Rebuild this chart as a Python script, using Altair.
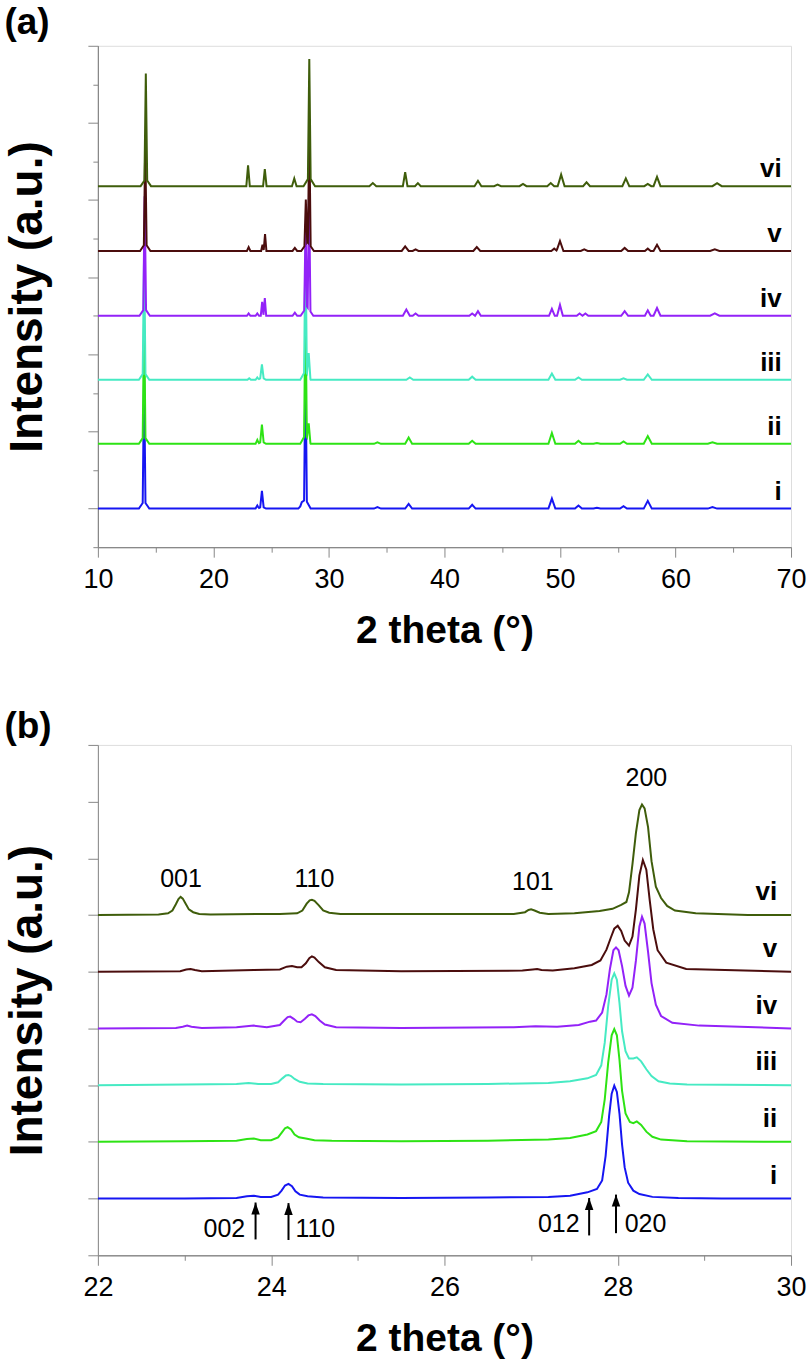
import altair as alt
import pandas as pd

FONT = "Liberation Sans"
SERIES = ["i", "ii", "iii", "iv", "v", "vi"]
COLORS = ["#1616F2", "#2DE314", "#46EAC3", "#9322F8", "#4B0D0D", "#3F5D0B"]

# ---------------- panel (a): 10-70 deg ----------------
A_OFFSET = [0.0, 0.84, 1.67, 2.5, 3.34, 4.18]
# peaks: (2theta, height above own baseline, half-width at base)
A_PEAKS_I = [(14.0, 1.65, 0.12), (14.0, 0.1, 0.45), (23.8, 0.04, 0.15), (24.2, 0.2, 0.15),
             (24.2, 0.03, 0.35), (27.65, 0.05, 0.3), (27.97, 1.8, 0.12), (27.97, 0.12, 0.45),
             (34.2, 0.02, 0.3), (36.9, 0.06, 0.3), (42.4, 0.05, 0.3), (49.3, 0.13, 0.3),
             (51.6, 0.04, 0.3), (53.2, 0.01, 0.3), (55.5, 0.03, 0.3), (57.6, 0.1, 0.35),
             (63.2, 0.02, 0.4)]
A_PEAKS_II = [(14.0, 1.6, 0.12), (14.0, 0.1, 0.45), (23.8, 0.05, 0.15), (24.2, 0.22, 0.15),
              (24.2, 0.03, 0.35), (27.97, 1.75, 0.12), (27.97, 0.12, 0.45), (28.25, 0.22, 0.15),
              (34.2, 0.02, 0.3), (36.9, 0.08, 0.3), (42.4, 0.04, 0.3), (49.3, 0.14, 0.3),
              (51.6, 0.04, 0.3), (53.2, 0.01, 0.3), (55.5, 0.03, 0.3), (57.6, 0.1, 0.35),
              (63.2, 0.02, 0.4)]
A_PEAKS_III = [(14.0, 1.55, 0.12), (14.0, 0.1, 0.45), (23.1, 0.02, 0.15), (23.8, 0.03, 0.15),
               (24.2, 0.17, 0.15), (24.2, 0.03, 0.35), (27.97, 1.75, 0.12), (27.97, 0.12, 0.45),
               (28.25, 0.3, 0.15), (37.0, 0.03, 0.3), (42.4, 0.04, 0.3), (49.3, 0.08, 0.3),
               (51.6, 0.03, 0.3), (55.5, 0.02, 0.3), (57.6, 0.07, 0.35)]
A_PEAKS_IV = [(14.05, 1.45, 0.12), (14.05, 0.1, 0.45), (23.05, 0.03, 0.15), (23.8, 0.03, 0.15),
              (24.22, 0.18, 0.12), (24.45, 0.23, 0.12), (27.05, 0.04, 0.2), (27.98, 1.1, 0.12),
              (28.28, 1.55, 0.12), (28.1, 0.12, 0.55), (36.7, 0.08, 0.3), (37.5, 0.03, 0.25),
              (42.4, 0.03, 0.25), (42.9, 0.06, 0.25), (49.3, 0.09, 0.25), (50.0, 0.14, 0.25),
              (51.7, 0.03, 0.25), (52.2, 0.03, 0.25), (55.6, 0.06, 0.3), (57.6, 0.07, 0.25),
              (58.4, 0.1, 0.3), (63.4, 0.03, 0.4)]
A_PEAKS_V = [(14.1, 1.3, 0.12), (14.1, 0.1, 0.45), (23.05, 0.05, 0.15), (24.25, 0.08, 0.12),
             (24.47, 0.22, 0.12), (27.05, 0.04, 0.2), (28.0, 0.58, 0.12), (28.3, 1.5, 0.12),
             (28.15, 0.12, 0.55), (36.6, 0.06, 0.3), (37.5, 0.02, 0.25), (42.8, 0.05, 0.3),
             (49.5, 0.03, 0.25), (50.0, 0.13, 0.3), (52.1, 0.02, 0.3), (55.6, 0.04, 0.3),
             (57.6, 0.03, 0.25), (58.4, 0.08, 0.3), (63.4, 0.02, 0.4)]
A_PEAKS_VI = [(14.15, 1.36, 0.12), (14.15, 0.1, 0.45), (23.0, 0.27, 0.15), (24.45, 0.22, 0.15),
              (27.0, 0.1, 0.2), (28.3, 1.53, 0.12), (28.3, 0.12, 0.5), (33.8, 0.04, 0.3),
              (36.6, 0.18, 0.2), (37.7, 0.04, 0.25), (42.9, 0.07, 0.3), (44.6, 0.02, 0.3),
              (46.8, 0.03, 0.3), (49.2, 0.04, 0.3), (50.1, 0.15, 0.3), (52.3, 0.05, 0.3),
              (55.7, 0.1, 0.3), (57.6, 0.03, 0.3), (58.4, 0.12, 0.3), (63.6, 0.04, 0.4)]
A_PEAKS = [A_PEAKS_I, A_PEAKS_II, A_PEAKS_III, A_PEAKS_IV, A_PEAKS_V, A_PEAKS_VI]
A_DOMAIN_X = [10, 70]
A_DOMAIN_Y = [-0.5, 6]
A_X_MAJOR = [10, 20, 30, 40, 50, 60, 70]
A_X_MINOR = [15, 25, 35, 45, 55, 65]
A_Y_MAJOR = [0, 1, 2, 3, 4, 5, 6]
A_Y_MINOR = [-0.5, 0.5, 1.5, 2.5, 3.5, 4.5, 5.5]
A_LABEL_X = 69.2
A_LABEL_LIFT = 0.22

# ---------------- panel (b): 22-30 deg ----------------
B_OFFSET = [1, 2, 3, 4, 5, 6]
B_I_X = [22.0, 23.0, 23.6, 23.72, 23.8, 23.88, 24.0, 24.08, 24.12, 24.16,
         24.2, 24.24, 24.28, 24.33, 24.42, 24.6, 25.5, 26.5, 27.2, 27.45,
         27.65, 27.76, 27.82, 27.86, 27.9, 27.93, 27.96, 27.99, 28.02, 28.05,
         28.08, 28.12, 28.18, 28.25, 28.4, 28.7, 29.2, 30.0]
B_I_H = [0.0, 0.0, 0.01, 0.04, 0.05, 0.03, 0.03, 0.07, 0.14, 0.23,
         0.26, 0.22, 0.13, 0.07, 0.04, 0.02, 0.01, 0.02, 0.03, 0.05,
         0.11, 0.17, 0.32, 0.75, 1.45, 1.85, 1.99, 1.88, 1.5, 0.95,
         0.55, 0.28, 0.14, 0.08, 0.03, 0.01, 0.0, 0.0]
B_II_X = [22.0, 23.0, 23.6, 23.72, 23.8, 23.88, 24.0, 24.08, 24.12, 24.16,
          24.19, 24.23, 24.27, 24.32, 24.4, 24.5, 24.7, 25.5, 26.5, 27.2,
          27.45, 27.65, 27.75, 27.81, 27.85, 27.89, 27.93, 27.96, 27.99, 28.02,
          28.05, 28.09, 28.14, 28.18, 28.22, 28.27, 28.33, 28.4, 28.5, 28.8, 30.0]
B_II_H = [0.0, 0.01, 0.02, 0.05, 0.06, 0.03, 0.03, 0.08, 0.16, 0.24,
          0.26, 0.22, 0.13, 0.08, 0.06, 0.03, 0.02, 0.01, 0.02, 0.04,
          0.07, 0.13, 0.19, 0.35, 0.75, 1.4, 1.88, 1.99, 1.88, 1.45,
          0.9, 0.5, 0.35, 0.33, 0.36, 0.3, 0.18, 0.09, 0.04, 0.01, 0.0]
B_III_X = [22.0, 23.0, 23.6, 23.74, 23.85, 24.0, 24.08, 24.13, 24.17, 24.2,
           24.23, 24.27, 24.33, 24.42, 24.6, 25.5, 26.5, 27.2, 27.45, 27.65,
           27.75, 27.81, 27.85, 27.89, 27.93, 27.96, 27.99, 28.02, 28.05, 28.09,
           28.13, 28.18, 28.22, 28.27, 28.33, 28.39, 28.47, 28.6, 28.8, 30.0]
B_III_H = [0.0, 0.01, 0.02, 0.04, 0.02, 0.02, 0.05, 0.12, 0.17, 0.18,
           0.16, 0.11, 0.06, 0.03, 0.02, 0.01, 0.02, 0.04, 0.07, 0.12,
           0.18, 0.35, 0.75, 1.4, 1.86, 1.97, 1.86, 1.45, 0.95, 0.6,
           0.47, 0.47, 0.49, 0.42, 0.28, 0.16, 0.07, 0.03, 0.01, 0.0]
B_IV_X = [22.0, 22.9, 22.98, 23.03, 23.08, 23.2, 23.6, 23.8, 23.95, 24.1,
          24.15, 24.19, 24.22, 24.26, 24.3, 24.34, 24.39, 24.43, 24.47, 24.51,
          24.56, 24.62, 24.75, 25.5, 26.8, 27.05, 27.3, 27.55, 27.68, 27.75,
          27.82, 27.87, 27.91, 27.95, 27.98, 28.01, 28.05, 28.09, 28.13, 28.17,
          28.21, 28.25, 28.28, 28.31, 28.35, 28.39, 28.44, 28.5, 28.63, 28.94, 30.0]
B_IV_H = [0.0, 0.01, 0.03, 0.05, 0.03, 0.01, 0.02, 0.05, 0.02, 0.06,
          0.14, 0.2, 0.21, 0.17, 0.12, 0.11, 0.17, 0.23, 0.25, 0.22,
          0.14, 0.07, 0.02, 0.01, 0.02, 0.04, 0.03, 0.06, 0.12, 0.14,
          0.28, 0.6, 1.05, 1.38, 1.43, 1.38, 1.1, 0.75, 0.58, 0.72,
          1.2, 1.8, 1.97, 1.85, 1.35, 0.8, 0.42, 0.22, 0.1, 0.05, 0.0]
B_V_X = [22.0, 22.95, 23.02, 23.07, 23.12, 23.2, 23.8, 24.1, 24.18, 24.24,
         24.3, 24.35, 24.4, 24.44, 24.47, 24.5, 24.55, 24.62, 24.75, 25.5,
         26.9, 27.02, 27.07, 27.12, 27.25, 27.5, 27.7, 27.8, 27.87, 27.92,
         27.96, 28.0, 28.04, 28.08, 28.13, 28.17, 28.21, 28.25, 28.29, 28.33,
         28.37, 28.41, 28.46, 28.56, 28.79, 30.0]
B_V_H = [0.0, 0.01, 0.04, 0.05, 0.03, 0.01, 0.03, 0.04, 0.09, 0.1,
         0.08, 0.08, 0.15, 0.24, 0.27, 0.25, 0.17, 0.08, 0.03, 0.01,
         0.02, 0.04, 0.05, 0.03, 0.02, 0.06, 0.12, 0.2, 0.39, 0.6,
         0.76, 0.81, 0.72, 0.55, 0.46, 0.62, 1.1, 1.7, 1.97, 1.8,
         1.25, 0.75, 0.38, 0.16, 0.05, 0.0]
B_VI_X = [22.0, 22.7, 22.81, 22.86, 22.9, 22.93, 22.955, 22.98, 23.01, 23.05,
          23.1, 23.17, 23.3, 24.1, 24.3, 24.36, 24.41, 24.445, 24.47, 24.5,
          24.55, 24.6, 24.67, 24.8, 26.8, 26.93, 26.97, 27.0, 27.04, 27.1,
          27.2, 27.5, 27.79, 27.94, 28.04, 28.1, 28.13, 28.17, 28.21, 28.25,
          28.28, 28.31, 28.35, 28.39, 28.44, 28.5, 28.57, 28.66, 28.9, 29.5, 30.0]
B_VI_H = [0.0, 0.01, 0.03, 0.08, 0.19, 0.28, 0.32, 0.29, 0.21, 0.1,
          0.05, 0.02, 0.01, 0.02, 0.03, 0.08, 0.2, 0.26, 0.27, 0.25,
          0.17, 0.08, 0.04, 0.02, 0.02, 0.05, 0.09, 0.1, 0.08, 0.04,
          0.02, 0.03, 0.07, 0.11, 0.18, 0.23, 0.4, 0.9, 1.45, 1.85,
          1.95, 1.88, 1.55, 0.95, 0.5, 0.3, 0.16, 0.08, 0.03, 0.0, 0.0]
B_XS = [B_I_X, B_II_X, B_III_X, B_IV_X, B_V_X, B_VI_X]
B_HS = [B_I_H, B_II_H, B_III_H, B_IV_H, B_V_H, B_VI_H]
B_DOMAIN_X = [22, 30]
B_DOMAIN_Y = [0, 9]
B_X_MAJOR = [22, 24, 26, 28, 30]
B_X_MINOR = [23, 25, 27, 29]
B_Y_MAJOR = [0, 1, 2, 3, 4, 5, 6, 7, 8, 9]
B_LABEL_X = 29.84
B_LABEL_LIFT = 0.4

# Miller-index labels on top trace and arrowed labels under trace i
B_HKL_TOP = ["001", "110", "101", "200"]
B_HKL_TOP_X = [22.96, 24.5, 27.02, 28.33]
B_HKL_TOP_Y = [6.64, 6.64, 6.58, 8.42]
B_ARROW_X = [23.82, 24.2, 27.67, 27.98]
B_ARROW_TIP = [0.93, 0.92, 1.01, 1.07]
B_ARROW_TAIL = [0.28, 0.27, 0.35, 0.39]
B_ARROW_TEXT = ["002", "110", "012", "020"]
B_ARROW_TEXT_X = [23.70, 24.28, 27.56, 28.08]
B_ARROW_TEXT_Y = [0.46, 0.46, 0.56, 0.56]
B_ARROW_TEXT_ALIGN = ["right", "left", "right", "left"]


def profile(peaks, lo, hi, offset):
    xs = sorted(set([lo, hi] + [p + d for p, h, w in peaks for d in (-w, 0.0, w)]))
    rows = []
    for x in xs:
        v = sum(max(0.0, h * (1 - abs(x - p) / w)) for p, h, w in peaks)
        rows.append({"x": x, "y": offset + v})
    return pd.DataFrame(rows)


def ax_major_x(vals, title):
    return alt.Axis(values=vals, tickSize=10, labelFontSize=27, labelPadding=9, title=title,
                    titleFontSize=39, titleFontWeight="bold", titlePadding=19, orient="bottom",
                    grid=False, labelFlush=False, labelOverlap=False)


def ax_minor_x(vals):
    return alt.Axis(values=vals, tickSize=5, labels=False, title=None, orient="bottom", grid=False)


def ax_major_y(vals, size):
    return alt.Axis(values=vals, tickSize=size, labels=False, title="Intensity (a.u.)",
                    titleFontSize=46, titleFontWeight="bold", titlePadding=36, orient="left",
                    grid=False)


def ax_minor_y(vals):
    return alt.Axis(values=vals, tickSize=5, labels=False, title=None, orient="left", grid=False)


# ---- build panel (a)
xs_a = alt.Scale(domain=A_DOMAIN_X, nice=False, zero=False)
ys_a = alt.Scale(domain=A_DOMAIN_Y, nice=False, zero=False)
layers_a = []
for k, (s, c) in enumerate(zip(SERIES, COLORS)):
    df = profile(A_PEAKS[k], A_DOMAIN_X[0], A_DOMAIN_X[1], A_OFFSET[k])
    if k == 0:
        xa, ya = ax_major_x(A_X_MAJOR, "2 theta (°)"), ax_major_y(A_Y_MAJOR, 10)
    elif k == 1:
        xa, ya = ax_minor_x(A_X_MINOR), ax_minor_y(A_Y_MINOR)
    else:
        xa, ya = None, None
    layers_a.append(
        alt.Chart(df).mark_line(color=c, strokeWidth=2, clip=True).encode(
            x=alt.X("x:Q", scale=xs_a, axis=xa),
            y=alt.Y("y:Q", scale=ys_a, axis=ya),
        )
    )
lab_a = pd.DataFrame({"label": SERIES, "x": [A_LABEL_X] * 6,
                      "y": [o + A_LABEL_LIFT for o in A_OFFSET]})
layers_a.append(
    alt.Chart(lab_a).mark_text(align="right", baseline="middle", font=FONT, fontSize=26,
                               fontWeight="bold", color="black").encode(
        x=alt.X("x:Q", scale=xs_a, axis=None), y=alt.Y("y:Q", scale=ys_a, axis=None),
        text="label:N")
)
chart_a = alt.layer(*layers_a).resolve_axis(x="independent", y="independent").properties(
    width=694, height=502,
    title=alt.TitleParams("(a)", anchor="start", frame="bounds", fontSize=37, fontWeight="bold",
                          font=FONT, color="black", offset=3),
)

# ---- build panel (b)
xs_b = alt.Scale(domain=B_DOMAIN_X, nice=False, zero=False)
ys_b = alt.Scale(domain=B_DOMAIN_Y, nice=False, zero=False)
layers_b = []
for k, (s, c) in enumerate(zip(SERIES, COLORS)):
    assert len(B_XS[k]) == len(B_HS[k])
    df = pd.DataFrame({"x": B_XS[k], "y": [B_OFFSET[k] + h for h in B_HS[k]]})
    if k == 0:
        xa, ya = ax_major_x(B_X_MAJOR, "2 theta (°)"), ax_major_y(B_Y_MAJOR, 10)
    elif k == 1:
        xa, ya = ax_minor_x(B_X_MINOR), None
    else:
        xa, ya = None, None
    layers_b.append(
        alt.Chart(df).mark_line(color=c, strokeWidth=2, clip=True).encode(
            x=alt.X("x:Q", scale=xs_b, axis=xa),
            y=alt.Y("y:Q", scale=ys_b, axis=ya),
        )
    )
lab_b = pd.DataFrame({"label": SERIES, "x": [B_LABEL_X] * 6,
                      "y": [o + B_LABEL_LIFT for o in B_OFFSET]})
layers_b.append(
    alt.Chart(lab_b).mark_text(align="right", baseline="middle", font=FONT, fontSize=26,
                               fontWeight="bold", color="black").encode(
        x=alt.X("x:Q", scale=xs_b, axis=None), y=alt.Y("y:Q", scale=ys_b, axis=None),
        text="label:N")
)
hkl_df = pd.DataFrame({"t": B_HKL_TOP, "x": B_HKL_TOP_X, "y": B_HKL_TOP_Y})
layers_b.append(
    alt.Chart(hkl_df).mark_text(align="center", baseline="middle", font=FONT, fontSize=25,
                                color="black").encode(
        x=alt.X("x:Q", scale=xs_b, axis=None), y=alt.Y("y:Q", scale=ys_b, axis=None),
        text="t:N")
)
arr_df = pd.DataFrame({"x": B_ARROW_X, "tip": B_ARROW_TIP, "tail": B_ARROW_TAIL})
layers_b.append(
    alt.Chart(arr_df).mark_rule(color="black", strokeWidth=2).encode(
        x=alt.X("x:Q", scale=xs_b, axis=None),
        y=alt.Y("tail:Q", scale=ys_b, axis=None), y2="tip:Q")
)
layers_b.append(
    alt.Chart(arr_df).mark_point(shape="M0,0L1,2.8L-1,2.8Z", filled=True, size=72,
                                 color="black", opacity=1).encode(
        x=alt.X("x:Q", scale=xs_b, axis=None),
        y=alt.Y("tip:Q", scale=ys_b, axis=None))
)
for al in ["right", "left"]:
    sub = pd.DataFrame({"t": B_ARROW_TEXT, "x": B_ARROW_TEXT_X, "y": B_ARROW_TEXT_Y,
                        "a": B_ARROW_TEXT_ALIGN})
    sub = sub[sub["a"] == al]
    layers_b.append(
        alt.Chart(sub).mark_text(align=al, baseline="middle", font=FONT, fontSize=25,
                                 color="black").encode(
            x=alt.X("x:Q", scale=xs_b, axis=None), y=alt.Y("y:Q", scale=ys_b, axis=None),
            text="t:N")
    )
chart_b = alt.layer(*layers_b).resolve_axis(x="independent", y="independent").properties(
    width=694, height=511,
    title=alt.TitleParams("(b)", anchor="start", frame="bounds", fontSize=37, fontWeight="bold",
                          font=FONT, color="black", offset=-2),
)

chart = alt.vconcat(chart_a, chart_b, spacing=57).properties(
    padding={"left": 4, "top": 3, "right": 0, "bottom": 0}
).configure_view(stroke="black", strokeWidth=2).configure_axis(
    domainColor="black", domainWidth=2, tickColor="black", tickWidth=2, labelColor="black",
    titleColor="black", labelFont=FONT, titleFont=FONT
).configure(background="white")

chart.save("out.html", embed_options={"renderer": "svg", "actions": False})
